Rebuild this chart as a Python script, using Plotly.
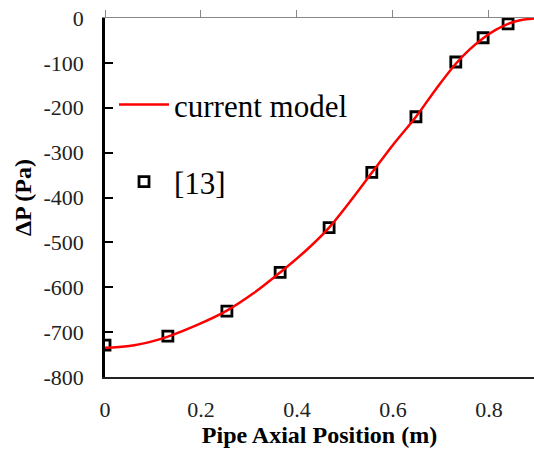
import plotly.graph_objects as go

# Model curve
model_x = [0.0, 0.05, 0.10, 0.131, 0.19, 0.254, 0.31, 0.365, 0.42, 0.467, 0.51,
           0.556, 0.60, 0.648, 0.69, 0.731, 0.76, 0.788, 0.815, 0.84, 0.865, 0.894]
model_y = [-735, -731, -720, -710, -685, -652, -613, -567, -517, -467, -410,
           -345, -283, -220, -158, -102, -70, -45, -26, -13, -5, -1]

# Reference data [13]
ref_x = [0.0, 0.131, 0.254, 0.365, 0.467, 0.556, 0.648, 0.731, 0.788, 0.840]
ref_y = [-729, -709, -653, -567, -467, -344, -220, -98, -44, -13]

x_tickvals = [0, 0.2, 0.4, 0.6, 0.8]
x_ticktext = ["0", "0.2", "0.4", "0.6", "0.8"]
y_tickvals = [0, -100, -200, -300, -400, -500, -600, -700, -800]
y_ticktext = ["0", "-100", "-200", "-300", "-400", "-500", "-600", "-700", "-800"]

FONT = "Liberation Serif"

fig = go.Figure()
fig.add_trace(go.Scatter(
    x=model_x, y=model_y, mode="lines", name="current model",
    line=dict(color="#ff0000", width=2.5, shape="spline"),
    xaxis="x2", legend="legend", showlegend=True,
))
fig.add_trace(go.Scatter(
    x=ref_x, y=ref_y, mode="markers", name="[13]",
    marker=dict(symbol="square-open", size=10, color="black",
                line=dict(width=2.8, color="black")),
    legend="legend2", showlegend=True,
))

fig.update_layout(
    template="none",
    width=534, height=450,
    margin=dict(l=105, r=0, t=18, b=73),
    paper_bgcolor="white", plot_bgcolor="white",
    showlegend=True,
    font=dict(family=FONT, color="black"),
    xaxis=dict(
        range=[0, 0.894], tickvals=x_tickvals, ticktext=x_ticktext,
        showgrid=False, zeroline=False, showline=True,
        linecolor="#222222", linewidth=1.5, ticks="",
        tickfont=dict(family=FONT, size=22, color="#222222"),
        ticklabelstandoff=12,
        title=dict(text="<b>Pipe Axial Position (m)</b>",
                   font=dict(family=FONT, size=24, color="black"),
                   standoff=5),
    ),
    xaxis2=dict(
        matches="x", overlaying="x", side="top",
        tickvals=x_tickvals, showticklabels=False,
        showgrid=False, zeroline=False, showline=True,
        linecolor="#888888", linewidth=1,
        ticks="outside", ticklen=7, tickwidth=1, tickcolor="#888888",
    ),
    yaxis=dict(
        range=[-800, 0], tickvals=y_tickvals, ticktext=y_ticktext,
        showgrid=False, zeroline=False, showline=True,
        linecolor="black", linewidth=2.5,
        ticks="inside", ticklen=8, tickwidth=2, tickcolor="black",
        tickfont=dict(family=FONT, size=22, color="#222222"),
        ticklabelstandoff=14,
        title=dict(text="<b>ΔP (Pa)</b>",
                   font=dict(family=FONT, size=24, color="black"),
                   standoff=6),
    ),
    legend=dict(
        x=0.021, y=0.758, xanchor="left", yanchor="middle",
        bgcolor="rgba(0,0,0,0)", itemwidth=50,
        font=dict(family=FONT, size=31, color="black"),
    ),
    legend2=dict(
        x=0.021, y=0.543, xanchor="left", yanchor="middle",
        bgcolor="rgba(0,0,0,0)", itemwidth=50,
        font=dict(family=FONT, size=31, color="black"),
    ),
)

fig.write_html("out.html")
